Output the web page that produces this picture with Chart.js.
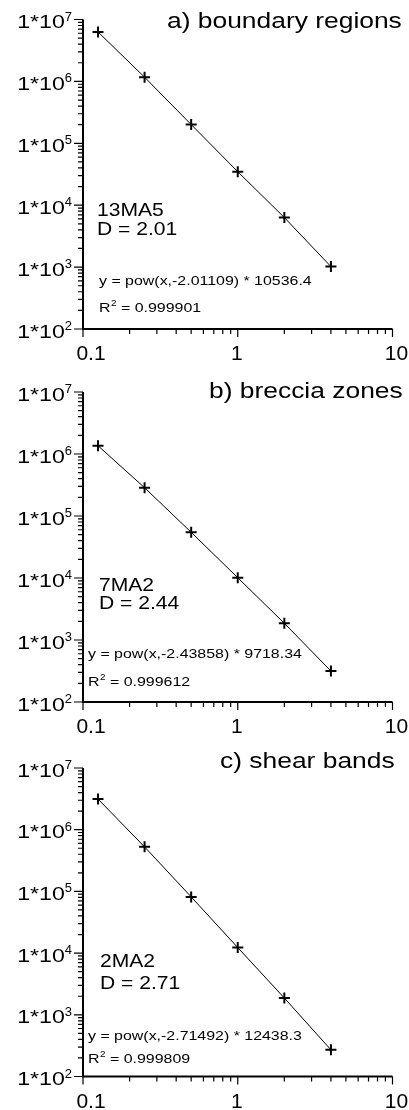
<!DOCTYPE html>
<html>
<head>
<meta charset="utf-8">
<script src="https://cdn.jsdelivr.net/npm/chart.js@4.4.1/dist/chart.umd.min.js"></script>
<style>
  html, body { margin: 0; padding: 0; background: #fff; }
  canvas { display: block; }
</style>
</head>
<body>
<canvas id="chartA" width="409" height="370"></canvas>
<canvas id="chartB" width="409" height="370"></canvas>
<canvas id="chartC" width="409" height="370"></canvas>
<script>
// ---- data ----
const sizes = [0.125, 0.25, 0.5, 1, 2, 4];
const countsA = [6.3e6, 1.17e6, 2.01e5, 3.48e4, 6.32e3, 1.02e3];
const countsB = [1.36e6, 2.86e5, 5.46e4, 1.01e4, 1.86e3, 316];
const countsC = [3.14e6, 5.27e5, 8.15e4, 1.23e4, 1.87e3, 271];

const titles = ["a) boundary regions", "b) breccia zones", "c) shear bands"];
const samples = ["13MA5", "7MA2", "2MA2"];
const dims = ["D = 2.01", "D = 2.44", "D = 2.71"];
const fits = ["y = pow(x,-2.01109) * 10536.4", "y = pow(x,-2.43858) * 9718.34", "y = pow(x,-2.71492) * 12438.3"];
const rSquared = ["0.999901", "0.999612", "0.999809"];

const xTicks = [0.1, 1, 10];
const xTickLabels = ["0.1", "1", "10"];
const yExps = [2, 3, 4, 5, 6, 7];

// ---- layout (pixels inside each 409x370 canvas) ----
const FONT = '"Liberation Sans", Arial, sans-serif';
const panels = [
  { id: "chartA", counts: countsA, top: 19.5, bottom: 329, titleX: 167, textX: 97, nameY: 216, dY: 235, fitX: 99, fitY: 285, r2Y: 312 },
  { id: "chartB", counts: countsB, top: 22, bottom: 332, titleX: 209, textX: 99, nameY: 221, dY: 239, fitX: 88, fitY: 288, r2Y: 316 },
  { id: "chartC", counts: countsC, top: 28, bottom: 336.5, titleX: 220, textX: 100, nameY: 227, dY: 249, fitX: 88, fitY: 300, r2Y: 323 }
];
const xLabelDx = [8, -1, 4];

function txt(ctx, s, x, y, size, sx, align) {
  ctx.save();
  ctx.font = size + "px " + FONT;
  ctx.textAlign = align || "left";
  ctx.textBaseline = "alphabetic";
  ctx.fillStyle = "#000";
  ctx.translate(x, y);
  ctx.scale(sx, 1);
  ctx.fillText(s, 0, 0);
  const w = ctx.measureText(s).width * sx;
  ctx.restore();
  return w;
}

function textWidth(ctx, s, size, sx) {
  ctx.save();
  ctx.font = size + "px " + FONT;
  const w = ctx.measureText(s).width * sx;
  ctx.restore();
  return w;
}

const logAxes = {
  id: "logAxes",
  beforeDatasetsDraw(chart, args, opts) {
    const ctx = chart.ctx;
    const xs = chart.scales.x, ys = chart.scales.y;
    const ax = xs.getPixelForValue(xTicks[0]);
    const ay = ys.getPixelForValue(Math.pow(10, yExps[0]));
    const xEnd = xs.getPixelForValue(xTicks[xTicks.length - 1]);
    const yEnd = ys.getPixelForValue(Math.pow(10, yExps[yExps.length - 1]));
    ctx.save();
    ctx.strokeStyle = "#000";
    // axis lines
    ctx.lineWidth = 2;
    ctx.beginPath();
    ctx.moveTo(ax, yEnd);
    ctx.lineTo(ax, ay);
    ctx.lineTo(xEnd, ay);
    ctx.stroke();

    ctx.lineWidth = 1.2;
    ctx.beginPath();
    // y ticks
    yExps.forEach((e, i) => {
      const base = Math.pow(10, e);
      const p = ys.getPixelForValue(base);
      ctx.moveTo(ax - 9, p); ctx.lineTo(ax, p);
      if (i < yExps.length - 1) {
        for (let k = 2; k <= 9; k++) {
          const q = ys.getPixelForValue(k * base);
          ctx.moveTo(ax - 5, q); ctx.lineTo(ax, q);
        }
      }
    });
    // x ticks
    xTicks.forEach((v, i) => {
      const p = xs.getPixelForValue(v);
      ctx.moveTo(p, ay); ctx.lineTo(p, ay + 8);
      if (i < xTicks.length - 1) {
        for (let k = 2; k <= 9; k++) {
          const q = xs.getPixelForValue(k * v);
          ctx.moveTo(q, ay); ctx.lineTo(q, ay + 5);
        }
      }
    });
    ctx.stroke();
    ctx.restore();

    // y tick labels 1*10^n
    yExps.forEach(e => {
      const p = ys.getPixelForValue(Math.pow(10, e));
      const right = ax - 11;
      const ew = textWidth(ctx, String(e), 13, 1);
      txt(ctx, String(e), right, p + 1, 13, 1, "right");
      txt(ctx, "1*10", right - ew, p + 8.5, 18.5, 1.25, "right");
    });
    // x tick labels
    xTicks.forEach((v, i) => {
      const p = xs.getPixelForValue(v);
      txt(ctx, xTickLabels[i], p + xLabelDx[i], ay + 31, 20, 1.05, "center");
    });
  },
  afterDraw(chart, args, opts) {
    const ctx = chart.ctx;
    const i = opts.panel;
    const L = panels[i];
    txt(ctx, titles[i], L.titleX, 28, 22, 1.2, "left");
    txt(ctx, samples[i], L.textX, L.nameY, 18.5, 1.14, "left");
    txt(ctx, dims[i], L.textX, L.dY, 18.5, 1.14, "left");
    txt(ctx, fits[i], L.fitX, L.fitY, 13.5, 1.18, "left");
    let w = txt(ctx, "R", L.fitX, L.r2Y, 13.5, 1.18, "left");
    w += txt(ctx, "2", L.fitX + w + 0.5, L.r2Y - 6, 9, 1.1, "left");
    txt(ctx, " = " + rSquared[i], L.fitX + w + 0.5, L.r2Y, 13.5, 1.18, "left");
  }
};

panels.forEach((L, i) => {
  new Chart(document.getElementById(L.id), {
    type: "scatter",
    data: {
      datasets: [{
        data: sizes.map((x, j) => ({ x: x, y: L.counts[j] })),
        showLine: true,
        borderColor: "#000",
        borderWidth: 1,
        pointStyle: "cross",
        pointRadius: 5.5,
        pointBorderWidth: 2,
        pointBorderColor: "#000",
        pointBackgroundColor: "#000"
      }]
    },
    options: {
      responsive: false,
      animation: false,
      events: [],
      layout: { padding: { left: 83, right: 16.5, top: L.top, bottom: 370 - L.bottom } },
      scales: {
        x: { type: "logarithmic", min: 0.1, max: 10, display: false },
        y: { type: "logarithmic", min: 100, max: 1e7, display: false }
      },
      plugins: {
        legend: { display: false },
        tooltip: { enabled: false },
        logAxes: { panel: i }
      }
    },
    plugins: [logAxes]
  });
});
</script>
</body>
</html>
